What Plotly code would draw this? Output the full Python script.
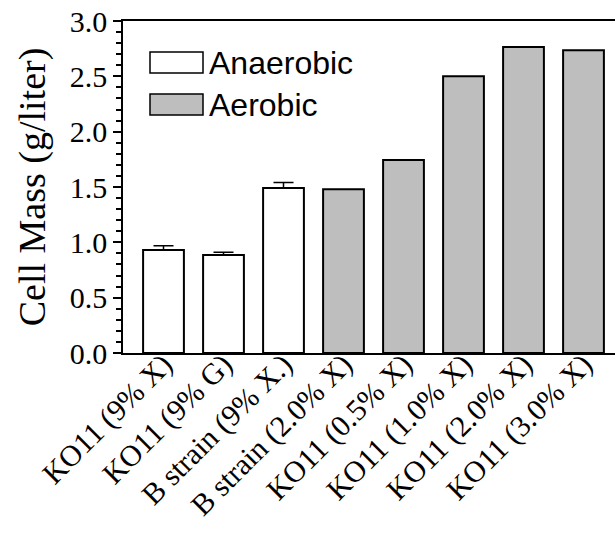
import plotly.graph_objects as go

# Strains / growth conditions along the x axis
categories = [
    "KO11 (9% X)", "KO11 (9% G)", "B strain (9% X.)", "B strain (2.0% X)",
    "KO11 (0.5% X)", "KO11 (1.0% X)", "KO11 (2.0% X)", "KO11 (3.0% X)",
]

# Anaerobic cultures (first three conditions)
anaerobic_x = categories[:3]
anaerobic_mass = [0.93, 0.885, 1.49]
anaerobic_err = [0.04, 0.025, 0.05]

# Aerobic cultures (remaining conditions)
aerobic_x = categories[3:]
aerobic_mass = [1.48, 1.745, 2.50, 2.765, 2.735]

W, H = 615, 542
ML, MR, MT, MB = 123, 0, 21, 189
PW, PH = W - ML - MR, H - MT - MB


def px_x(px):
    return (px - ML) / PW


def px_y(py):
    return (H - MB - py) / PH


serif = "Liberation Serif, Times New Roman, serif"
sans = "Liberation Sans, Arial, sans-serif"

fig = go.Figure()
fig.add_trace(go.Bar(
    x=anaerobic_x, y=anaerobic_mass, name="Anaerobic", width=0.68,
    marker=dict(color="white", line=dict(color="black", width=2)),
    error_y=dict(type="data", array=anaerobic_err, symmetric=False,
                 arrayminus=[0, 0, 0], color="black", thickness=1.5, width=10),
    showlegend=False,
))
fig.add_trace(go.Bar(
    x=aerobic_x, y=aerobic_mass, name="Aerobic", width=0.68,
    marker=dict(color="#bebebe", line=dict(color="black", width=2)),
    showlegend=False,
))

# Hand-drawn legend boxes and labels
legend_items = [("Anaerobic", "white", 52, 73), ("Aerobic", "#bebebe", 94, 115)]
for label, fill, top, bot in legend_items:
    fig.add_shape(type="rect", xref="paper", yref="paper",
                  x0=px_x(150), x1=px_x(203), y0=px_y(bot), y1=px_y(top),
                  fillcolor=fill, line=dict(color="black", width=1.5))
    fig.add_annotation(xref="paper", yref="paper", x=px_x(207),
                       y=px_y((top + bot) / 2), text=label, showarrow=False,
                       xanchor="left", yanchor="middle",
                       font=dict(family=sans, size=32, color="black"))

fig.update_layout(
    width=W, height=H,
    margin=dict(l=ML, r=MR, t=MT, b=MB, pad=0),
    plot_bgcolor="white", paper_bgcolor="white",
    barmode="overlay",
    xaxis=dict(
        type="category", categoryorder="array", categoryarray=categories,
        range=[-0.675, 7.525], showline=True, linecolor="black", linewidth=1.5,
        mirror=True, ticks="", tickangle=-45, ticklabelstandoff=-20,
        tickfont=dict(family=serif, size=30, color="black"),
        showgrid=False, zeroline=False,
    ),
    yaxis=dict(
        range=[0, 3.0], dtick=0.5, tickformat=".1f",
        showline=True, linecolor="black", linewidth=1.5,
        ticks="outside", ticklen=8, tickwidth=1.5, tickcolor="black",
        minor=dict(dtick=0.1, ticks="outside", ticklen=5, tickwidth=1.5,
                   tickcolor="black", showgrid=False),
        tickfont=dict(family=serif, size=30, color="black"),
        title=dict(text="Cell Mass (g/liter)", standoff=12,
                   font=dict(family=serif, size=38, color="black")),
        showgrid=False, zeroline=False,
    ),
)

fig.write_html("out.html")
